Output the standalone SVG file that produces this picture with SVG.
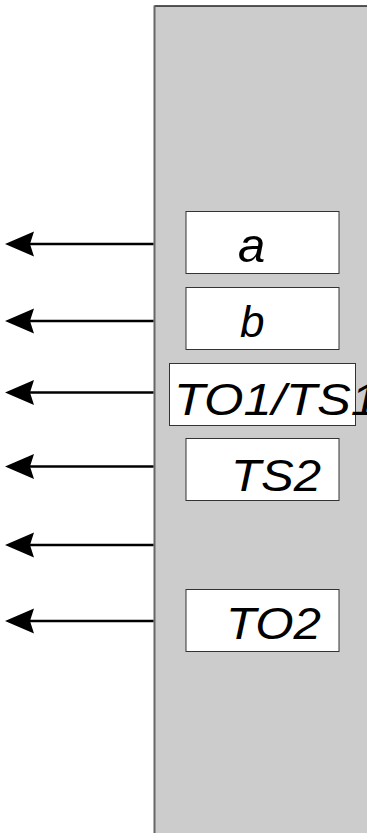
<svg xmlns="http://www.w3.org/2000/svg" width="367" height="833" viewBox="0 0 367 833">
  <style>
    .box { fill: #ffffff; stroke: #333333; stroke-width: 1; }
    .lbl { font-family: "Liberation Sans", Arial, sans-serif; font-style: italic; font-size: 44px; fill: #000000; }
    .conn { stroke: #000000; stroke-width: 2.5; fill: none; }
  </style>
  <defs>
    <marker id="arrow" markerUnits="userSpaceOnUse" markerWidth="32" markerHeight="28" viewBox="-1 -1 32 28" refX="4" refY="12.5" orient="auto">
      <path d="M0,0 L29,12.5 L0,25 L4,12.5 Z" fill="#000000"/>
    </marker>
  </defs>
  <rect width="367" height="833" fill="#ffffff"/>
  <g id="block">
    <rect x="154.5" y="6" width="220" height="840" fill="#cccccc"/>
    <line x1="154.5" y1="6" x2="367" y2="6" stroke="#222222" stroke-width="1.5"/>
    <line x1="154.5" y1="5.5" x2="154.5" y2="833" stroke="#666666" stroke-width="2"/>
  </g>
  <g id="connectors">
    <line class="conn" x1="153.5" y1="244" x2="30" y2="244" marker-end="url(#arrow)"/>
    <line class="conn" x1="153.5" y1="321" x2="30" y2="321" marker-end="url(#arrow)"/>
    <line class="conn" x1="153.5" y1="392.5" x2="30" y2="392.5" marker-end="url(#arrow)"/>
    <line class="conn" x1="153.5" y1="466.5" x2="30" y2="466.5" marker-end="url(#arrow)"/>
    <line class="conn" x1="153.5" y1="545" x2="30" y2="545" marker-end="url(#arrow)"/>
    <line class="conn" x1="153.5" y1="621" x2="30" y2="621" marker-end="url(#arrow)"/>
  </g>
  <g id="node-a">
    <rect class="box" x="186" y="211.5" width="153" height="62"/>
    <text class="lbl" x="238" y="261.5" style="font-size:49px">a</text>
  </g>
  <g id="node-b">
    <rect class="box" x="186" y="287.5" width="153" height="62"/>
    <text class="lbl" x="240" y="336.5">b</text>
  </g>
  <g id="node-to1ts1">
    <rect class="box" x="169.5" y="363.5" width="186" height="62"/>
    <text class="lbl" x="174" y="415" textLength="205" lengthAdjust="spacingAndGlyphs">TO1/TS1</text>
  </g>
  <g id="node-ts2">
    <rect class="box" x="186" y="438.5" width="153" height="62"/>
    <text class="lbl" x="231" y="490.5" textLength="90" lengthAdjust="spacingAndGlyphs">TS2</text>
  </g>
  <g id="node-to2">
    <rect class="box" x="186" y="589.5" width="153" height="62"/>
    <text class="lbl" x="226" y="639" textLength="95" lengthAdjust="spacingAndGlyphs">TO2</text>
  </g>
</svg>
